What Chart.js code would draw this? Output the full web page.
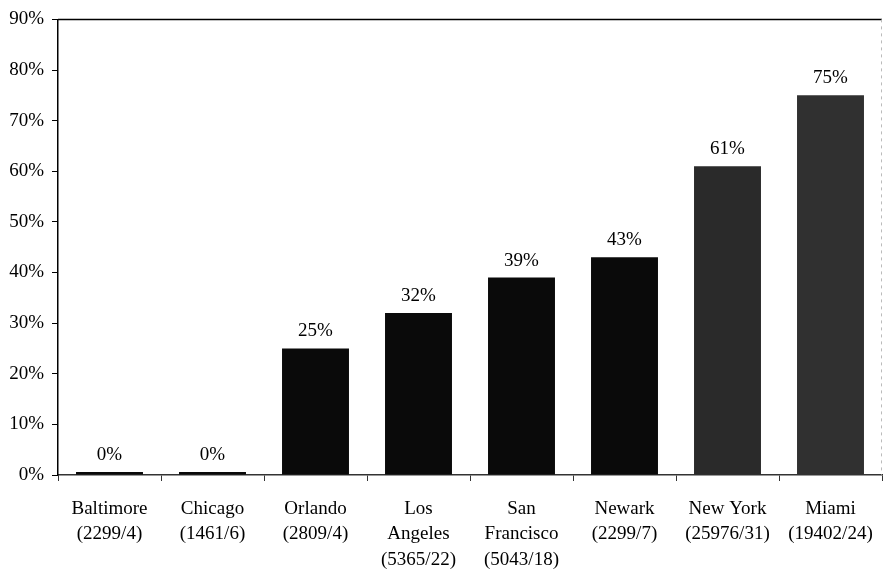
<!DOCTYPE html>
<html>
<head>
<meta charset="utf-8">
<script src="https://cdn.jsdelivr.net/npm/chart.js@4/dist/chart.umd.min.js"></script>
<style>
html,body{margin:0;padding:0;background:#fff;}
#wrap{width:883px;height:569px;position:relative;}
</style>
</head>
<body>
<div id="wrap"><canvas id="c" width="883" height="569"></canvas></div>
<script>
const categories = [
  ["Baltimore","(2299/4)"],
  ["Chicago","(1461/6)"],
  ["Orlando","(2809/4)"],
  ["Los","Angeles","(5365/22)"],
  ["San","Francisco","(5043/18)"],
  ["Newark","(2299/7)"],
  ["New York","(25976/31)"],
  ["Miami","(19402/24)"]
];
const percentValues = [0, 0, 25, 32, 39, 43, 61, 75];
const yTicks = [0,10,20,30,40,50,60,70,80,90];
const barColors = ["#0a0a0a","#0a0a0a","#0a0a0a","#0a0a0a","#0a0a0a","#0a0a0a","#2a2a2a","#303030"];

const FONT = "'Liberation Serif','Times New Roman',serif";

const labelPlugin = {
  id: 'valLabels',
  afterDatasetsDraw(chart) {
    const ctx = chart.ctx;
    const meta = chart.getDatasetMeta(0);
    ctx.save();
    ctx.font = "19px " + FONT;
    ctx.fillStyle = "#000";
    ctx.textAlign = "center";
    ctx.textBaseline = "alphabetic";
    meta.data.forEach((bar, i) => {
      ctx.fillText(percentValues[i] + "%", bar.x, bar.y - 12);
    });
    ctx.restore();
  }
};

const framePlugin = {
  id: 'frame',
  afterDraw(chart) {
    const a = chart.chartArea;
    const ctx = chart.ctx;
    ctx.save();
    ctx.strokeStyle = "#000";
    ctx.lineWidth = 1.5;
    ctx.beginPath();
    ctx.moveTo(a.left, a.top);
    ctx.lineTo(a.right, a.top);
    ctx.stroke();
    ctx.strokeStyle = "#bbb";
    ctx.lineWidth = 1;
    ctx.setLineDash([3,4]);
    ctx.beginPath();
    ctx.moveTo(a.right - 0.5, a.top);
    ctx.lineTo(a.right - 0.5, a.bottom);
    ctx.stroke();
    ctx.restore();
  }
};

new Chart(document.getElementById('c'), {
  type: 'bar',
  data: {
    labels: categories,
    datasets: [{
      data: percentValues,
      backgroundColor: barColors,
      borderWidth: 0,
      minBarLength: 3,
      barPercentage: 0.65,
      categoryPercentage: 1.0
    }]
  },
  options: {
    responsive: false,
    animation: false,
    layout: { padding: { top: 16, right: 1, left: 0, bottom: 0 } },
    plugins: { legend: { display: false }, tooltip: { enabled: false } },
    scales: {
      x: {
        grid: { display: true, drawOnChartArea: false, drawTicks: true, tickLength: 6, color: "#333", offset: true },
        border: { display: true, color: "#333", width: 1.5 },
        ticks: { color: "#000", font: { family: FONT, size: 19, lineHeight: 1.35 }, padding: 15, maxRotation: 0, autoSkip: false },
        afterFit(scale) { scale.height = 94; scale.paddingLeft = 0; scale.paddingRight = 0; }
      },
      y: {
        min: 0, max: 90,
        afterBuildTicks(scale) { scale.ticks = yTicks.map(v => ({ value: v })); },
        grid: { display: true, drawOnChartArea: false, drawTicks: true, tickLength: 6, color: "#000" },
        border: { display: true, color: "#000", width: 1.5 },
        ticks: { color: "#000", font: { family: FONT, size: 19 }, padding: 8, callback: v => v + "%" },
        afterFit(scale) { scale.width = 58; }
      }
    }
  },
  plugins: [labelPlugin, framePlugin]
});
</script>
</body>
</html>
